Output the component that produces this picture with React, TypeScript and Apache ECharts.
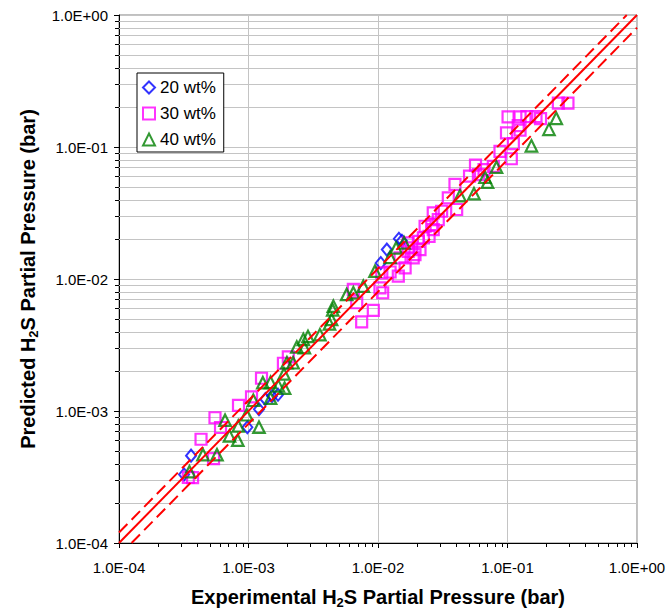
import { useEffect, useRef } from "react";
import * as echarts from "echarts";

// Axis range (bar) and tick labels
const axisMin = 1e-4;
const axisMax = 1;
const tickLabels = ["1.0E-04", "1.0E-03", "1.0E-02", "1.0E-01", "1.0E+00"];

// Minor gridline / tick positions: 2..9 within each decade
const decadeExponents = [-4, -3, -2, -1];
const minorMultipliers = [2, 3, 4, 5, 6, 7, 8, 9];

const seriesNames = ["20 wt%", "30 wt%", "40 wt%"];

// [experimental, predicted] H2S partial pressure (bar)
const wt20: [number, number][] = [
  [3.18e-4, 3.3e-4], [3.6e-4, 4.59e-4], [9.8e-4, 7.53e-4], [1.205e-3, 1.03e-3],
  [1.35e-3, 1.23e-3], [1.52e-3, 1.3e-3], [1.69e-3, 1.33e-3], [1.05e-2, 1.32e-2],
  [1.17e-2, 1.67e-2], [1.45e-2, 2.02e-2], [1.53e-2, 1.95e-2],
];

const wt30: [number, number][] = [
  [3.43e-4, 3.14e-4], [3.7e-4, 3.13e-4], [4.3e-4, 6.11e-4], [5.37e-4, 4.35e-4],
  [5.51e-4, 8.89e-4], [6.08e-4, 7.5e-4], [8.37e-4, 1.105e-3], [1.055e-3, 1.28e-3],
  [1.26e-3, 1.77e-3], [1.86e-3, 2.3e-3], [2.03e-3, 2.57e-3], [6.45e-3, 8.33e-3],
  [6.85e-3, 6.61e-3], [7.48e-3, 4.73e-3], [9.2e-3, 5.78e-3], [1.036e-2, 8.58e-3],
  [1.087e-2, 7.87e-3], [1.07e-2, 1.114e-2], [1.24e-2, 1.13e-2], [1.435e-2, 1.05e-2],
  [1.48e-2, 1.445e-2], [1.62e-2, 1.215e-2], [1.71e-2, 1.88e-2], [1.71e-2, 1.62e-2],
  [1.82e-2, 1.72e-2], [1.87e-2, 1.445e-2], [1.93e-2, 1.53e-2], [2.05e-2, 1.93e-2],
  [2.11e-2, 1.67e-2], [2.24e-2, 2.05e-2], [2.48e-2, 2.1e-2], [2.31e-2, 2.51e-2],
  [2.6e-2, 2.58e-2], [2.67e-2, 3.17e-2], [2.67e-2, 2.37e-2], [2.92e-2, 2.82e-2],
  [3.1e-2, 3.26e-2], [3.49e-2, 4.11e-2], [4.05e-2, 3.36e-2], [3.93e-2, 5.21e-2],
  [5.09e-2, 6.01e-2], [5.66e-2, 7.28e-2], [5.96e-2, 6.17e-2], [6.59e-2, 6.73e-2],
  [7.77e-2, 7.13e-2], [8.75e-2, 9.26e-2], [9.82e-2, 1.28e-1], [1.01e-1, 1.69e-1],
  [1.07e-1, 8.15e-2], [1.11e-1, 1.06e-1], [1.21e-1, 1.45e-1], [1.25e-1, 1.34e-1],
  [1.25e-1, 1.69e-1], [1.41e-1, 1.7e-1], [1.66e-1, 1.7e-1], [1.8e-1, 1.64e-1],
  [2.47e-1, 2.15e-1], [2.93e-1, 2.15e-1],
];

const wt40: [number, number][] = [
  [3.5e-4, 3.47e-4], [4.45e-4, 4.67e-4], [5.71e-4, 4.67e-4], [6.59e-4, 8.51e-4],
  [7.13e-4, 6.48e-4], [8.27e-4, 6.01e-4], [8.34e-4, 7.71e-4], [9.68e-4, 9.37e-4],
  [1.205e-3, 7.54e-4], [1.09e-3, 1.206e-3], [1.29e-3, 1.64e-3], [1.48e-3, 1.25e-3],
  [1.48e-3, 1.65e-3], [1.7e-3, 1.55e-3], [1.9e-3, 1.49e-3], [1.88e-3, 1.91e-3],
  [1.98e-3, 2.32e-3], [2.21e-3, 2.32e-3], [2.36e-3, 3.06e-3], [2.7e-3, 3.02e-3],
  [2.65e-3, 3.49e-3], [2.88e-3, 3.67e-3], [3.56e-3, 3.79e-3], [4.22e-3, 4.57e-3],
  [4.38e-3, 4.94e-3], [4.47e-3, 5.83e-3], [4.52e-3, 6.23e-3], [5.73e-3, 7.64e-3],
  [6.45e-3, 7.87e-3], [7.7e-3, 8.83e-3], [9.48e-3, 1.146e-2], [1.24e-2, 1.46e-2],
  [1.38e-2, 1.72e-2], [1.59e-2, 1.88e-2], [4.3e-2, 4.28e-2], [5.51e-2, 4.43e-2],
  [6.7e-2, 5.9e-2], [7.01e-2, 5.41e-2], [8.22e-2, 7.03e-2], [1.53e-1, 1.02e-1],
  [2.09e-1, 1.36e-1], [2.38e-1, 1.65e-1],
];

// Parity line and +/-20 % band
const upperBand = 1.2;
const lowerBand = 0.8;

const FONT = "'Liberation Sans', Arial, sans-serif";
const GRID_COLOR = "#c4c4c4";

export default function App() {
  const ref = useRef<HTMLDivElement>(null);

  useEffect(() => {
    if (!ref.current) return;
    const chart = echarts.init(ref.current, undefined, { renderer: "svg" });

    const minorValues = decadeExponents.flatMap((e) =>
      minorMultipliers.map((k) => k * Math.pow(10, e))
    );

    const labelFor = (v: number) => {
      const idx = Math.round(Math.log10(v)) - Math.round(Math.log10(axisMin));
      return tickLabels[idx] ?? "";
    };

    const titleStyle = {
      fontSize: 20,
      fontWeight: "bold" as const,
      color: "#000",
      fontFamily: FONT,
      lineHeight: 24,
      rich: {
        sub: {
          fontSize: 13,
          fontWeight: "bold" as const,
          fontFamily: FONT,
          color: "#000",
          lineHeight: 13,
          verticalAlign: "bottom" as const,
        },
      },
    };

    const scatterBase = {
      type: "scatter" as const,
      silent: true,
      z: 3,
    };

    const redLine = (name: string, data: number[][], dashed: boolean) => ({
      name,
      type: "line" as const,
      data,
      symbol: "none",
      silent: true,
      z: 4,
      lineStyle: { color: "#ff0000", width: 2, type: dashed ? [12, 6] : "solid" },
    });

    chart.setOption({
      animation: false,
      backgroundColor: "#fff",
      grid: {
        left: 119,
        top: 15,
        right: 35,
        bottom: 70,
        show: true,
        borderColor: "#808080",
        borderWidth: 1,
      },
      legend: {
        orient: "vertical",
        left: 137,
        top: 73,
        padding: [6, 8, 4, 5],
        itemGap: 9,
        itemWidth: 12,
        itemHeight: 12,
        backgroundColor: "#fff",
        borderColor: "#000",
        borderWidth: 1,
        selectedMode: false,
        textStyle: { fontSize: 17, color: "#000", fontFamily: FONT },
        itemStyle: { borderWidth: 2 },
        data: seriesNames,
      },
      xAxis: {
        type: "log",
        logBase: 10,
        min: axisMin,
        max: axisMax,
        splitNumber: 4,
        axisLine: { show: true, lineStyle: { color: "#000", width: 1 } },
        axisTick: { show: true, inside: false, length: 5, lineStyle: { color: "#000" } },
        axisLabel: {
          formatter: labelFor,
          fontSize: 15,
          color: "#000",
          fontFamily: FONT,
          margin: 17,
        },
        splitLine: { show: true, lineStyle: { color: GRID_COLOR, width: 1 } },
        name: "Experimental H{sub|2}S Partial Pressure (bar)",
        nameLocation: "middle",
        nameGap: 42,
        nameTextStyle: titleStyle,
      },
      yAxis: {
        type: "log",
        logBase: 10,
        min: axisMin,
        max: axisMax,
        splitNumber: 4,
        axisLine: { show: true, lineStyle: { color: "#000", width: 1 } },
        axisTick: { show: true, inside: false, length: 5, lineStyle: { color: "#000" } },
        axisLabel: {
          formatter: labelFor,
          fontSize: 15,
          color: "#000",
          fontFamily: FONT,
          margin: 11,
        },
        splitLine: { show: true, lineStyle: { color: GRID_COLOR, width: 1 } },
        name: "Predicted H{sub|2}S Partial Pressure (bar)",
        nameLocation: "middle",
        nameGap: 79,
        nameTextStyle: titleStyle,
      },
      series: [
        // minor horizontal gridlines
        {
          type: "custom",
          coordinateSystem: "cartesian2d",
          silent: true,
          clip: false,
          z: 1,
          data: minorValues.map((v) => [axisMin, v]),
          renderItem: (_p: any, api: any) => {
            const v = api.value(1);
            const a = api.coord([axisMin, v]);
            const b = api.coord([axisMax, v]);
            const y = Math.round(a[1]) + 0.5;
            return {
              type: "line",
              shape: { x1: a[0], y1: y, x2: b[0], y2: y },
              style: { stroke: GRID_COLOR, lineWidth: 1 },
            };
          },
        },
        // minor ticks on the x axis
        {
          type: "custom",
          coordinateSystem: "cartesian2d",
          silent: true,
          clip: false,
          z: 5,
          data: minorValues.map((v) => [v, axisMin]),
          renderItem: (_p: any, api: any) => {
            const p = api.coord([api.value(0), axisMin]);
            const x = Math.round(p[0]) + 0.5;
            return {
              type: "line",
              shape: { x1: x, y1: p[1], x2: x, y2: p[1] + 4 },
              style: { stroke: "#000", lineWidth: 1 },
            };
          },
        },
        // minor ticks on the y axis
        {
          type: "custom",
          coordinateSystem: "cartesian2d",
          silent: true,
          clip: false,
          z: 5,
          data: minorValues.map((v) => [axisMin, v]),
          renderItem: (_p: any, api: any) => {
            const p = api.coord([axisMin, api.value(1)]);
            const y = Math.round(p[1]) + 0.5;
            return {
              type: "line",
              shape: { x1: p[0] - 4, y1: y, x2: p[0], y2: y },
              style: { stroke: "#000", lineWidth: 1 },
            };
          },
        },
        {
          ...scatterBase,
          name: seriesNames[0],
          data: wt20,
          symbol: "diamond",
          symbolSize: [10, 12],
          itemStyle: { color: "rgba(0,0,0,0)", borderColor: "#0000ff", borderWidth: 2 },
        },
        {
          ...scatterBase,
          name: seriesNames[1],
          data: wt30,
          symbol: "rect",
          symbolSize: 11,
          itemStyle: { color: "rgba(0,0,0,0)", borderColor: "#ff00ff", borderWidth: 2.2 },
        },
        {
          ...scatterBase,
          name: seriesNames[2],
          data: wt40,
          symbol: "triangle",
          symbolSize: 11.5,
          itemStyle: { color: "rgba(0,0,0,0)", borderColor: "#008000", borderWidth: 2.2 },
        },
        redLine("parity", [[axisMin, axisMin], [axisMax, axisMax]], false),
        redLine("+20%", [[axisMin, axisMin * upperBand], [axisMax / upperBand, axisMax]], true),
        redLine("-20%", [[axisMin / lowerBand, axisMin], [axisMax, axisMax * lowerBand]], true),
      ],
    });

    return () => chart.dispose();
  }, []);

  return (
    <div
      ref={ref}
      style={{ position: "absolute", left: 0, top: 0, width: 672, height: 614 }}
    />
  );
}
